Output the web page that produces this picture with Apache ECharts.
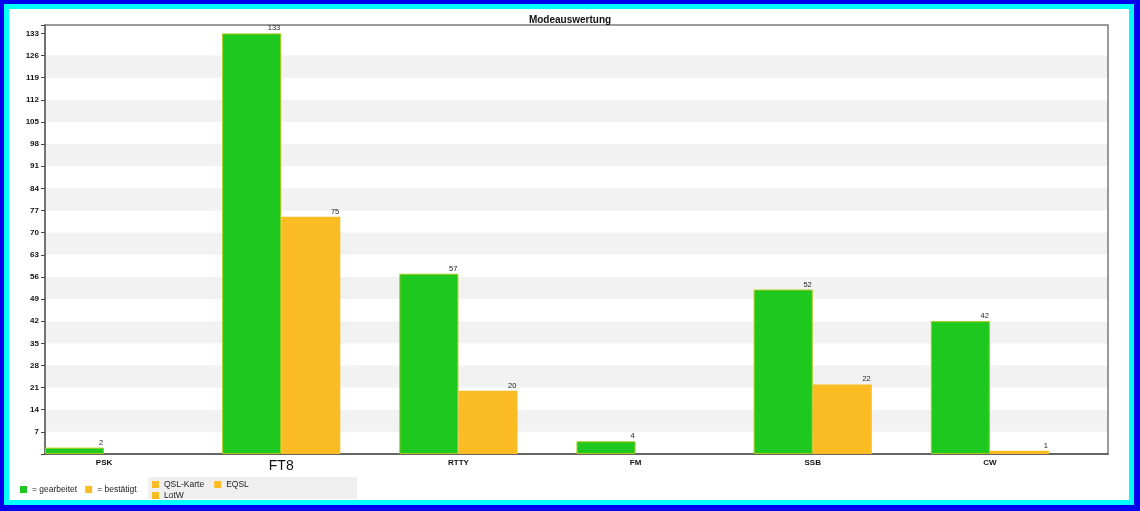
<!DOCTYPE html>
<html><head><meta charset="utf-8">
<script src="https://cdn.jsdelivr.net/npm/echarts@6/dist/echarts.min.js"></script>
<style>
html,body{margin:0;padding:0;width:1140px;height:511px;overflow:hidden;background:#fff}
#frame{position:absolute;left:0;top:0;width:1140px;height:511px;box-sizing:border-box;border-style:solid;border-color:#0000ee;border-width:4px 6px 6px 4px;}
#inner{position:absolute;left:0;top:0;right:0;bottom:0;border:5px solid #00ffff;background:#fff}
#chart{position:absolute;left:0;top:0;width:1140px;height:511px}
</style></head>
<body>
<div id="frame"><div id="inner"></div></div>
<div id="chart"></div>
<script>
const categories = ['PSK', 'FT8', 'RTTY', 'FM', 'SSB', 'CW'];
const worked = [2, 133, 57, 4, 52, 42];
const confirmed = [0, 75, 20, 0, 22, 1];
const yTickStep = 7;
const yLastTick = 133;
const yMax = 135.66;
const legendMain = ['= gearbeitet', '= bestätigt'];
const legendQslRow1 = ['QSL-Karte', 'EQSL'];
const legendQslRow2 = ['LotW'];
const largeLabelCategory = 'FT8';

const F = '"Liberation Sans", Arial, sans-serif';
const GREEN = '#1ec81e', ORANGE = '#fbbb23';

// alternating horizontal stripes between ticks (odd bands shaded)
const stripes = [];
for (let k = 1; (k + 1) * yTickStep <= yLastTick; k += 2) {
  stripes.push([{ yAxis: k * yTickStep }, { yAxis: (k + 1) * yTickStep }]);
}

const valueLabel = {
  show: true, position: ['100%', 0], align: 'right', verticalAlign: 'bottom',
  offset: [-1, -1], fontSize: 7.5, color: '#222', fontFamily: F,
  formatter: p => (p.value ? String(p.value) : '')
};

const series = [
  { name: legendMain[0], type: 'bar', data: worked.map(v => v || null),
    itemStyle: { color: GREEN, borderColor: '#a8c814', borderWidth: 1 }, label: valueLabel,
    markArea: { silent: true, z: -1, itemStyle: { color: '#f2f2f2' }, label: { show: false }, data: stripes } },
  { name: legendMain[1], type: 'bar', data: confirmed.map(v => v || null),
    itemStyle: { color: ORANGE }, label: valueLabel }
];
legendQslRow1.concat(legendQslRow2).forEach(n => series.push({
  name: n, type: 'bar', stack: 'qsl', data: [], itemStyle: { color: ORANGE }
}));

const legendCommon = { padding: 0, itemWidth: 7, itemHeight: 7, icon: 'rect',
  itemStyle: { borderWidth: 0 },
  textStyle: { fontSize: 8.5, color: '#222', fontFamily: F } };

const chart = echarts.init(document.getElementById('chart'), null, { renderer: 'canvas' });
chart.setOption({
  animation: false,
  textStyle: { fontFamily: F },
  title: { text: 'Modeauswertung', left: 'center', top: 15, padding: 0,
    textStyle: { fontSize: 10, fontWeight: 'bold', color: '#111', fontFamily: F } },
  graphic: [{ type: 'rect', left: 148, top: 477, z: -1,
    shape: { width: 209, height: 22 }, style: { fill: '#efefef' } }],
  legend: [
    Object.assign({ data: legendMain, left: 20, top: 485, itemGap: 8 }, legendCommon),
    Object.assign({ data: legendQslRow1, left: 152, top: 480, itemGap: 10 }, legendCommon),
    Object.assign({ data: legendQslRow2, left: 152, top: 491, itemGap: 10 }, legendCommon)
  ],
  grid: { left: 45, right: 32, top: 25, bottom: 57, show: true, borderColor: '#7a7a7a', borderWidth: 1.5 },
  xAxis: {
    type: 'category', data: categories,
    axisLine: { lineStyle: { color: '#555', width: 1.5 } },
    axisTick: { show: false },
    axisLabel: {
      margin: 5, padding: [0, 59, 0, 0], fontSize: 8, fontWeight: 'bold', color: '#111', fontFamily: F,
      formatter: v => (v === largeLabelCategory ? '{big|' + v + '}' : v),
      rich: { big: { fontSize: 14, fontWeight: 'normal', color: '#111', fontFamily: F } }
    }
  },
  yAxis: {
    type: 'value', min: 0, max: yMax, interval: yTickStep,
    axisLine: { show: true, lineStyle: { color: '#666', width: 1.5 } },
    axisTick: { show: true, length: 4, lineStyle: { color: '#444' } },
    axisLabel: { fontSize: 8, fontWeight: 'bold', color: '#111', margin: 6, fontFamily: F,
      formatter: v => (v > 0 && Math.abs(v / yTickStep - Math.round(v / yTickStep)) < 1e-6 ? String(v) : '') },
    splitLine: { show: false },
    splitArea: { show: false }
  },
  series: series.map(s => Object.assign(s, { barGap: '0%', barCategoryGap: '0%' }))
});
</script>
</body></html>
